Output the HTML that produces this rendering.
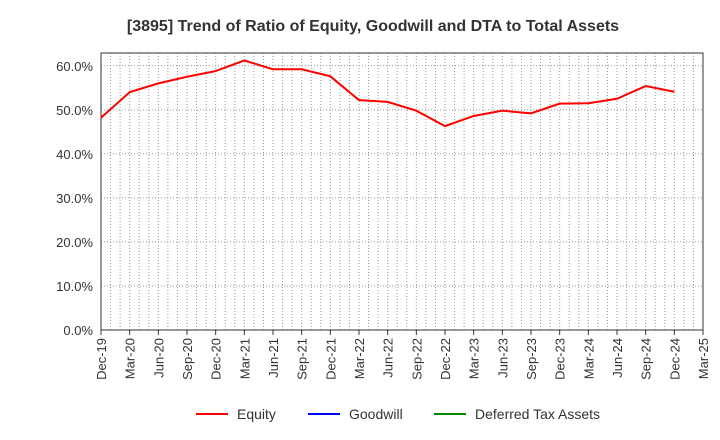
<!DOCTYPE html>
<html><head><meta charset="utf-8"><style>
body{margin:0;background:#fff;font-family:"Liberation Sans",sans-serif}
svg{display:block}
</style></head><body>
<svg id="c" width="720" height="440" xmlns="http://www.w3.org/2000/svg">
<text x="373" y="31" text-anchor="middle" font-size="16" font-weight="bold" fill="#333">[3895]  Trend of Ratio of Equity, Goodwill and DTA to Total Assets</text>
<g id="grid"></g><g id="axes"></g><g id="series"></g>
<g font-size="14" fill="#333">
<g><line x1="196" y1="414" x2="228" y2="414" stroke="#f00" stroke-width="2"/><text x="237" y="419">Equity</text></g>
<g><line x1="308" y1="414" x2="340" y2="414" stroke="#00f" stroke-width="2"/><text x="349" y="419">Goodwill</text></g>
<g><line x1="434" y1="414" x2="466" y2="414" stroke="#080" stroke-width="2"/><text x="475" y="419">Deferred Tax Assets</text></g>
</g>
</svg>
<script>
const categories=["Dec-19","Mar-20","Jun-20","Sep-20","Dec-20","Mar-21","Jun-21","Sep-21","Dec-21","Mar-22","Jun-22","Sep-22","Dec-22","Mar-23","Jun-23","Sep-23","Dec-23","Mar-24","Jun-24","Sep-24","Dec-24","Mar-25"];
const equity=[48.2,54.0,56.0,57.5,58.8,61.2,59.2,59.2,57.6,52.2,51.8,49.8,46.3,48.6,49.8,49.2,51.4,51.5,52.5,55.4,54.1];
const yTicks=[0,10,20,30,40,50,60];
const L=101,R=703,T=53,B=330,yMax=62.9;
const NS="http://www.w3.org/2000/svg";
const x=i=>L+(R-L)*i/(categories.length-1);
const y=v=>B-(B-T)*v/yMax;
function mk(tag,attrs,parent){const e=document.createElementNS(NS,tag);for(const k in attrs)e.setAttribute(k,attrs[k]);document.getElementById(parent).appendChild(e);return e;}
for(let m=1;m<(categories.length-1)*3;m++){const xx=L+(R-L)*m/((categories.length-1)*3);
const g=mk("line",{x1:xx,x2:xx,y1:T,y2:B,stroke:"#999","stroke-dasharray":"1,2"},"grid");

}
yTicks.forEach(t=>{const yy=y(t);
const g=mk("line",{x1:L,x2:R,y1:yy,y2:yy,stroke:"#999","stroke-dasharray":"1,2"},"grid");


const tx=mk("text",{x:L-8,y:yy+5,"text-anchor":"end","font-size":"13",fill:"#333"},"axes");tx.textContent=t.toFixed(1)+"%";

});
const fr=mk("rect",{x:L,y:T,width:R-L,height:B-T,fill:"none",stroke:"#333"},"axes");


categories.forEach((c,i)=>{const xx=x(i);
const tk=mk("line",{x1:xx,x2:xx,y1:B,y2:B+5,stroke:"#333"},"axes");


const tx=mk("text",{transform:`translate(${xx+5},${B+8}) rotate(-90)`,"text-anchor":"end","font-size":"13",fill:"#333"},"axes");tx.textContent=c;

});
const p=mk("polyline",{points:equity.map((v,i)=>x(i)+","+y(v)).join(" "),fill:"none",stroke:"#f00","stroke-width":"2"},"series");


</script>
</body></html>
